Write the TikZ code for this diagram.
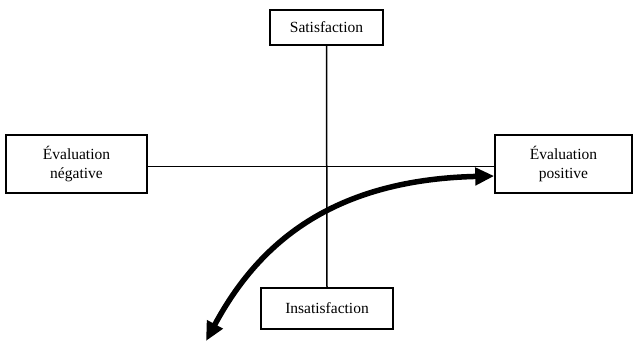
\documentclass[tikz,border=0pt]{standalone}
\usepackage{fontspec}
\setmainfont{Liberation Serif}
\usetikzlibrary{arrows.meta}
\begin{document}
\begin{tikzpicture}[x=1pt,y=-1pt,
  box/.style={draw,line width=1.6pt,inner sep=0pt,align=center,
    font=\fontsize{15.5}{18.5}\selectfont},
  axis/.style={line width=1.5pt},
  bigarrow/.style={line width=5.5pt,{Triangle[length=19pt,width=17pt]}-{Triangle[length=19pt,width=17pt]}}]
\useasboundingbox[fill=white] (0,0) rectangle (633,342);
\node[box,minimum width=113pt,minimum height=35pt] (sat) at (326.5,27.5) {Satisfaction};
\node[box,minimum width=132pt,minimum height=41pt] (insat) at (327,308.5) {Insatisfaction};
\node[box,minimum width=141pt,minimum height=58pt] (neg) at (76.5,164) {Évaluation\\négative};
\node[box,minimum width=137pt,minimum height=58pt] (pos) at (563.5,164) {Évaluation\\positive};
\draw[axis] (sat.south) -- (insat.north);
\draw[axis] ([yshift=-2.5pt]neg.east) -- ([yshift=-2.5pt]pos.west);
\coordinate (low) at (206,341);
\draw[bigarrow] (low) .. controls (255,250) and (325,180) .. ([yshift=-12pt]pos.west);
\end{tikzpicture}
\end{document}
